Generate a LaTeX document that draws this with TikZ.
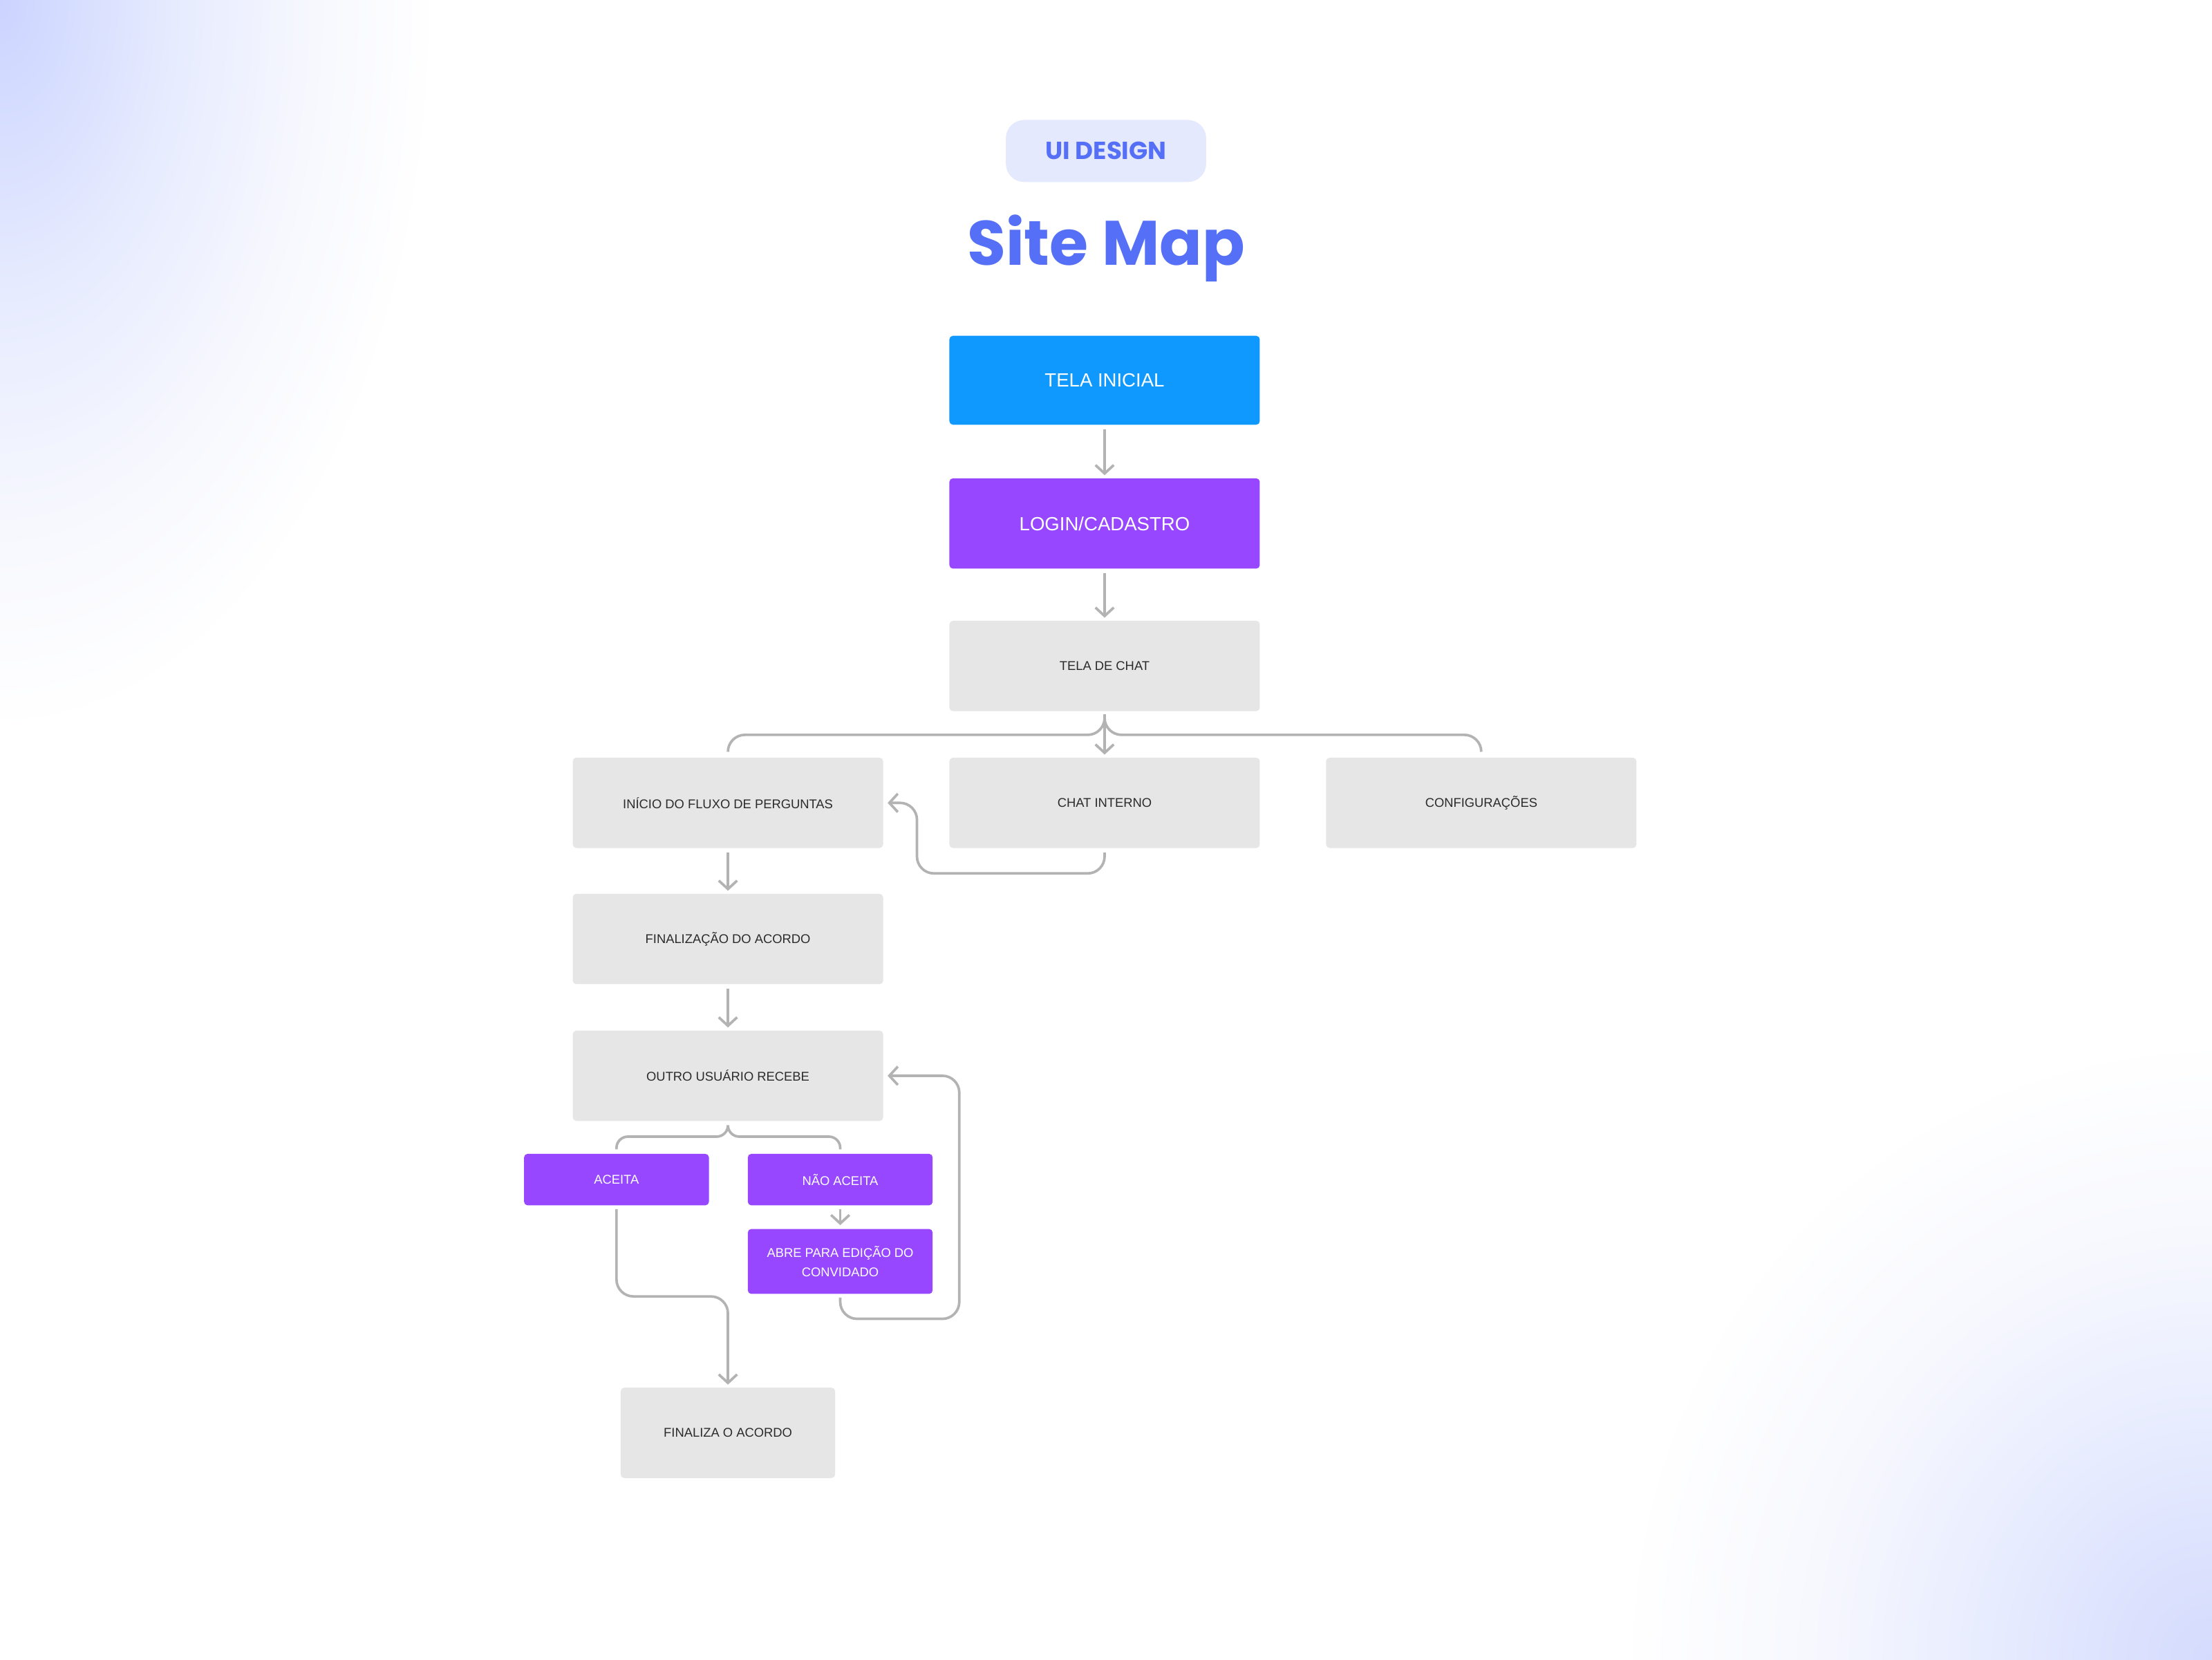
\documentclass[tikz,border=0pt]{standalone}
\usepackage{fontspec}
\setmainfont{Liberation Sans}
\newfontfamily\poppins{Poppins}
\usetikzlibrary{arrows.meta,calc}
\definecolor{cornerA}{HTML}{CBD4FF}
\definecolor{cornerB}{HTML}{E6EBFE}
\definecolor{cornerC}{HTML}{D4DBFD}
\definecolor{cornerD}{HTML}{F7F8FE}
\definecolor{titleblue}{HTML}{5570F6}
\definecolor{pillfill}{HTML}{E5E9FD}
\definecolor{telablue}{HTML}{0F99FF}
\definecolor{purp}{HTML}{9747FF}
\definecolor{boxgray}{HTML}{E6E6E6}
\definecolor{linegray}{HTML}{B3B3B3}
\definecolor{txtdark}{HTML}{2A2A2A}
\pgfdeclareradialshading{tlcorner}{\pgfpoint{0bp}{0bp}}{color(0bp)=(cornerA); color(10bp)=(cornerB); color(18bp)=(cornerD); color(25bp)=(white); color(50bp)=(white)}
\pgfdeclareradialshading{brcorner}{\pgfpoint{0bp}{0bp}}{color(0bp)=(cornerC); color(9bp)=(cornerB); color(17bp)=(cornerD); color(25bp)=(white); color(50bp)=(white)}
\tikzset{
  box/.style={rectangle, rounded corners=2.5pt, minimum width=220pt, minimum height=64pt, inner sep=0pt, align=center},
  graybox/.style={box, fill=boxgray, text=txtdark, font=\fontsize{9}{13.8}\selectfont},
  bigbox/.style={box, text=white, font=\fontsize{13.5}{16}\selectfont},
  smallpurple/.style={rectangle, rounded corners=2.5pt, minimum width=131pt, fill=purp, text=white, font=\fontsize{9}{13.8}\selectfont, align=center, inner sep=0pt},
  conn/.style={draw=linegray, line width=1.8pt, rounded corners=12pt},
  arr/.style={conn, -{Straight Barb[length=6pt,width=13pt]}},
}
\begin{document}
\begin{tikzpicture}[x=1pt,y=-1pt]
\useasboundingbox (0,0) rectangle (1568,1176);
\fill[white] (0,0) rectangle (1568,1176);
\begin{scope}
  \clip (0,0) rectangle (1568,1176);
  \shade[shading=tlcorner] (0,0) ellipse [x radius=310pt, y radius=520pt];
  \shade[shading=brcorner] (1568,1176) ellipse [x radius=420pt, y radius=440pt];
\end{scope}

% header
\node[fill=pillfill, rounded corners=13pt, minimum width=142pt, minimum height=44pt, inner sep=0pt,
      text=titleblue, font=\poppins\bfseries\fontsize{17.5}{20}\selectfont] (pill) at (784,107) {UI DESIGN};
\node[anchor=base, inner sep=0pt, text=titleblue, font=\poppins\bfseries\fontsize{44.5}{50}\selectfont] (title) at (784,188) {Site Map};

% boxes
\node[bigbox, fill=telablue, minimum height=63pt] (tela) at (783,269.5) {TELA INICIAL};
\node[bigbox, fill=purp] (login) at (783,371) {LOGIN/CADASTRO};
\node[graybox] (chat) at (783,472) {TELA DE CHAT};
\node[graybox] (inicio) at (516,569) {INÍCIO DO FLUXO DE PERGUNTAS};
\node[graybox] (chatint) at (783,569) {CHAT INTERNO};
\node[graybox] (config) at (1050,569) {CONFIGURAÇÕES};
\node[graybox] (final) at (516,665.5) {FINALIZAÇÃO DO ACORDO};
\node[graybox] (outro) at (516,762.4) {OUTRO USUÁRIO RECEBE};
\node[smallpurple, minimum height=36.5pt] (aceita) at (437,836) {ACEITA};
\node[smallpurple, minimum height=36.5pt] (nao) at (595.6,836) {NÃO ACEITA};
\node[smallpurple, minimum height=46pt] (abre) at (595.6,894) {ABRE PARA EDIÇÃO DO\\CONVIDADO};
\node[graybox, minimum width=152pt] (finaliza) at (516,1015.5) {FINALIZA O ACORDO};

% connectors
\draw[arr] ([yshift=-3pt]tela.south) -- ([yshift=2pt]login.north);
\draw[arr] ([yshift=-3pt]login.south) -- ([yshift=2pt]chat.north);

\coordinate (bc) at ([yshift=-2pt]chat.south);
\coordinate (bl) at ([yshift=16pt]inicio.north);
\coordinate (br) at ([yshift=16pt]config.north);
\draw[conn] (bc) |- (bl) -- ([yshift=4pt]inicio.north);
\draw[conn] (bc) |- (br) -- ([yshift=4pt]config.north);
\draw[arr] (bc) -- ([yshift=2pt]chatint.north);

\coordinate (cl) at (650,619);
\draw[arr] ([yshift=-3pt]chatint.south) |- (cl) |- ([xshift=3pt]inicio.east);

\draw[arr] ([yshift=-3pt]inicio.south) -- ([yshift=2pt]final.north);
\draw[arr] ([yshift=-3pt]final.south) -- ([yshift=2pt]outro.north);

\coordinate (oc) at ([yshift=-3pt]outro.south);
\coordinate (ol) at ([yshift=12pt]aceita.north);
\coordinate (or) at ([yshift=12pt]nao.north);
\draw[conn, rounded corners=8pt] (oc) |- (ol) -- ([yshift=3pt]aceita.north);
\draw[conn, rounded corners=8pt] (oc) |- (or) -- ([yshift=3pt]nao.north);

\draw[arr] ([yshift=-2.5pt]nao.south) -- ([yshift=2.5pt]abre.north);

\coordinate (ab) at (680,934.7);
\draw[arr] ([yshift=-2.5pt]abre.south) |- (ab) |- ([xshift=3pt]outro.east);

\coordinate (ac) at (516,918.8);
\draw[arr] ([yshift=-2.5pt]aceita.south) |- (ac) -- ([yshift=2pt]finaliza.north);
\end{tikzpicture}
\end{document}
